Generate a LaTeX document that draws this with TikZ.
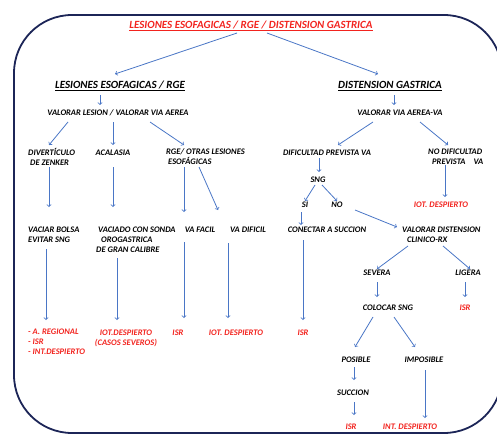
\documentclass[tikz,border=0pt]{standalone}
\usepackage{fontspec}
\setmainfont{Carlito}
\usetikzlibrary{arrows, calc, positioning}

\definecolor{linkblue}{HTML}{4A76C6}
\definecolor{alertred}{HTML}{F2231E}
\definecolor{framenavy}{HTML}{1C2557}

\begin{document}
\begin{tikzpicture}[x=1pt, y=-1pt]
    \tikzstyle{lbl} = [inner sep=1pt, font=\fontsize{8.5}{10}\selectfont\bfseries\itshape, align=center]
    \tikzstyle{lbll} = [lbl, align=left, anchor=west]
    \tikzstyle{res} = [lbl, text=alertred]
    \tikzstyle{head} = [inner sep=1pt, font=\fontsize{11}{12}\selectfont\bfseries\itshape]
    \tikzstyle{flow} = [->, >=to, linkblue, line width=0.8pt]

    \useasboundingbox (0,0) rectangle (497,433);
    \draw [framenavy, line width=1.8pt, rounded corners=58pt] (14,15) rectangle (502,433);

    % titles
    \node (top) [head, text=alertred] at (251,26) {\underline{LESIONES ESOFAGICAS / RGE / DISTENSION GASTRICA}};
    \node (les) [head] at (120,86) {\underline{LESIONES ESOFAGICAS / RGE}};
    \node (dis) [head] at (390,86) {\underline{DISTENSION GASTRICA}};

    % left branch
    \node (vl)  [lbl]  at (118,113) {VALORAR LESION / VALORAR VIA AEREA};
    \node (div) [lbll] at (27,157)  {DIVERTÍCULO\\\hspace{2pt}DE ZENKER};
    \node (aca) [lbl]  at (113,153) {ACALASIA};
    \node (rge) [lbll] at (165,157) {RGE/ OTRAS LESIONES\\\hspace{2pt}ESOFÁGICAS};
    \node (vac) [lbll] at (27,235)  {VACIAR BOLSA\\EVITAR SNG};
    \node (vso) [lbll] at (95,240)  {\hspace{2pt}VACIADO CON SONDA\\\hspace{5pt}OROGASTRICA\\DE GRAN CALIBRE};
    \node (vaf) [lbl]  at (200,230) {VA FACIL};
    \node (vad) [lbl]  at (248,230) {VA DIFICIL};
    \node (r1)  [res, align=left, anchor=west] at (27,342) {- A. REGIONAL\\- ISR\\- INT.DESPIERTO};
    \node (r2)  [res]  at (126,338) {IOT.DESPIERTO\\(CASOS SEVEROS)};
    \node (r3)  [res]  at (178,333) {ISR};
    \node (r4)  [res]  at (236,333) {IOT. DESPIERTO};

    % right branch
    \node (vva)  [lbl]  at (400,113) {VALORAR VIA AEREA-VA};
    \node (dpv)  [lbl]  at (327,153) {DIFICULTAD PREVISTA VA};
    \node (ndp)  [lbll] at (427,157) {NO DIFICULTAD\\\hspace{4pt}PREVISTA\hspace{8pt}VA};
    \node (sng)  [lbl]  at (318,180) {SNG};
    \node (si)   [lbl]  at (305,205) {SI};
    \node (no)   [lbl]  at (337,205) {NO};
    \node (iot)  [res]  at (441,205) {IOT. DESPIERTO};
    \node (cas)  [lbl]  at (327,230) {CONECTAR A SUCCION};
    \node (vdc)  [lbll] at (401,235) {VALORAR DISTENSION\\\hspace{5pt}CLINICO-RX};
    \node (isr1) [res]  at (303,333) {ISR};
    \node (sev)  [lbl]  at (377,273) {SEVERA};
    \node (lig)  [lbl]  at (468,273) {LIGERA};
    \node (col)  [lbl]  at (388,308) {COLOCAR SNG};
    \node (isr2) [res]  at (465,308) {ISR};
    \node (pos)  [lbl]  at (356,360) {POSIBLE};
    \node (imp)  [lbl]  at (424,360) {IMPOSIBLE};
    \node (suc)  [lbl]  at (353,393) {SUCCION};
    \node (isr3) [res]  at (351,427) {ISR};
    \node (int)  [res]  at (410,427) {INT. DESPIERTO};

    \draw [flow] ([shift={(-14,7)}]top.center) -- ([shift={(-5,-12)}]les.center);
    \draw [flow] ([shift={(16,7)}]top.center) -- ([shift={(-12,-12)}]dis.center);
    \draw [flow] ([shift={(-20,9)}]les.center) -- ([shift={(-18,-8)}]vl.center);
    \draw [flow] ([shift={(4,9)}]dis.center) -- ([shift={(-6,-8)}]vva.center);

    \draw [flow] ([shift={(-50,9)}]vl.center) -- ([shift={(22,-12)}]div.west);
    \draw [flow] ([shift={(-5,9)}]vl.center) -- ([shift={(0,-8)}]aca.center);
    \draw [flow] ([shift={(32,9)}]vl.center) -- ([shift={(19,-12)}]rge.west);
    \draw [flow] ([shift={(22,10)}]div.west) -- ([shift={(22,-28)}]vac.west);
    \draw [flow] ([shift={(0,14)}]aca.center) -- ([shift={(18,-33)}]vso.west);
    \draw [flow] ([shift={(19,10)}]rge.west) -- ([shift={(-16,-18)}]vaf.center);
    \draw [flow] ([shift={(34,10)}]rge.west) -- ([shift={(-30,-20)}]vad.center);
    \draw [flow] ([shift={(19,14)}]vac.west) -- ([shift={(19,-22)}]r1.west);
    \draw [flow] ([shift={(22,18)}]vso.west) -- ([shift={(-9,-18)}]r2.center);
    \draw [flow] ([shift={(-16,12)}]vaf.center) -- ([shift={(6,-15)}]r3.center);
    \draw [flow] ([shift={(-20,13)}]vad.center) -- ([shift={(-8,-15)}]r4.center);

    \draw [flow] ([shift={(-27,9)}]vva.center) -- ([shift={(11,-8)}]dpv.center);
    \draw [flow] ([shift={(20,9)}]vva.center) -- ([shift={(21,-12)}]ndp.west);
    \draw [flow] ([shift={(-8,5)}]dpv.center) -- ([shift={(1,-8)}]sng.center);
    \draw [flow] ([shift={(-3,5)}]sng.center) -- ([shift={(0,-4)}]si.center);
    \draw [flow] ([shift={(4,5)}]sng.center) -- ([shift={(0,-4)}]no.center);
    \draw [flow] ([shift={(18,8)}]ndp.west) -- ([shift={(4,-8)}]iot.center);
    \draw [flow] ([shift={(-4,7)}]si.center) -- ([shift={(-26,-5)}]cas.center);
    \draw [flow] ([shift={(18,5)}]no.center) -- ([shift={(-4,-8)}]vdc.west);
    \draw [flow] ([shift={(-24,10)}]cas.center) -- ([shift={(0,-13)}]isr1.center);
    \draw [flow] ([shift={(7,11)}]vdc.west) -- ([shift={(0,-4)}]sev.center);
    \draw [flow] ([shift={(42,11)}]vdc.west) -- ([shift={(2,-4)}]lig.center);
    \draw [flow] ([shift={(0,9)}]sev.center) -- ([shift={(-11,-11)}]col.center);
    \draw [flow] ([shift={(-3,9)}]lig.center) -- ([shift={(0,-11)}]isr2.center);
    \draw [flow] ([shift={(-15,9)}]col.center) -- ([shift={(-1,-13)}]pos.center);
    \draw [flow] ([shift={(6,9)}]col.center) -- ([shift={(-9,-13)}]imp.center);
    \draw [flow] ([shift={(-2,7)}]pos.center) -- ([shift={(1,-13)}]suc.center);
    \draw [flow] ([shift={(1,9)}]suc.center) -- ([shift={(3,-12)}]isr3.center);
    \draw [flow] ([shift={(1,10)}]imp.center) -- ([shift={(15,-9)}]int.center);
\end{tikzpicture}
\end{document}
